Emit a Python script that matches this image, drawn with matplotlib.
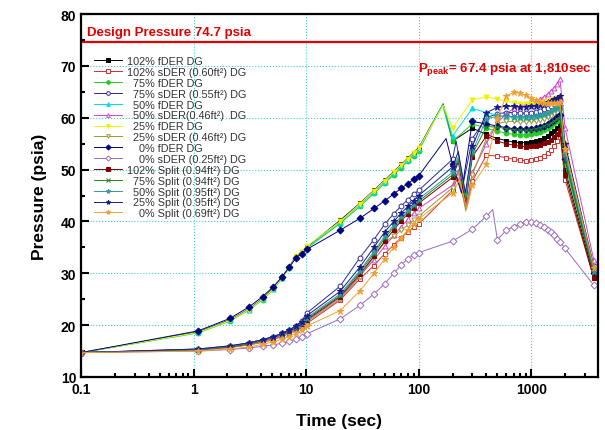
import matplotlib.pyplot as plt
from matplotlib.ticker import FixedLocator, MultipleLocator, FuncFormatter, NullFormatter

plt.rcParams['font.family'] = ['Liberation Sans', 'DejaVu Sans']
plt.rcParams['mathtext.fontset'] = 'custom'
plt.rcParams['mathtext.rm'] = 'Liberation Sans'
plt.rcParams['mathtext.bf'] = 'Liberation Sans:bold'

# time points where markers are drawn (sec)
time_s = [0.1, 1.1, 2.1, 3.1, 4.1, 5.1, 6.1, 7.1, 8.1, 9.1, 10.1,
          20, 30, 40, 50, 60, 70, 80, 90, 100,
          200, 300, 400, 500, 600, 700, 800, 900, 1000,
          1100, 1200, 1300, 1400, 1500, 1600, 1700, 1800, 2000, 3600]

# pressure (psia) for each case, one value per time point
fder_102 = [14.7, 18.7, 21.0, 23.1, 25.1, 27.1, 29.2, 31.3, 33.3, 34.1, 35.0,
            40.2, 43.5, 46.0, 48.0, 49.6, 51.0, 52.2, 53.3, 54.2,
            55.5, 58.0, 56.8, 56.0, 55.6, 55.3, 55.2, 55.2, 55.3,
            55.5, 55.8, 56.1, 56.5, 57.0, 57.5, 58.1, 58.8, 50.0, 29.5]
sder_102 = [14.7, 15.2, 15.7, 16.2, 16.7, 17.2, 17.8, 18.4, 19.0, 19.6, 20.3,
            24.8, 28.9, 31.5, 33.8, 35.5, 36.9, 38.0, 38.9, 39.5,
            46.0, 47.8, 52.8, 52.6, 52.3, 52.0, 51.8, 51.7, 51.8,
            52.0, 52.3, 52.7, 53.2, 53.8, 54.6, 55.6, 56.8, 48.0, 29.0]
fder_75 = [14.7, 18.5, 20.8, 22.9, 24.9, 26.9, 29.0, 31.1, 33.1, 33.9, 34.8,
           39.6, 42.9, 45.4, 47.4, 49.0, 50.4, 51.6, 52.7, 53.6,
           55.5, 58.8, 58.0, 57.4, 57.0, 56.8, 56.7, 56.7, 56.8,
           57.0, 57.3, 57.6, 58.0, 58.4, 58.9, 59.4, 60.0, 51.0, 30.0]
sder_75 = [14.7, 15.4, 16.0, 16.6, 17.2, 17.8, 18.4, 19.1, 19.9, 20.8, 22.3,
           27.5, 33.0, 36.5, 39.5, 41.5, 43.0, 44.2, 45.2, 46.0,
           52.0, 56.0, 60.0, 60.8, 61.0, 61.0, 60.9, 60.9, 61.0,
           61.1, 61.3, 61.6, 61.9, 62.2, 62.6, 63.0, 63.4, 54.0, 31.5]
fder_50 = [14.7, 18.6, 20.9, 23.0, 25.0, 27.0, 29.1, 31.2, 33.2, 34.0, 34.9,
           39.9, 43.2, 45.7, 47.7, 49.3, 50.7, 51.9, 53.0, 53.9,
           56.5, 61.8, 61.0, 60.5, 60.2, 60.0, 59.9, 59.9, 60.0,
           60.1, 60.3, 60.6, 60.9, 61.2, 61.6, 62.0, 62.4, 53.0, 30.5]
sder_50 = [14.7, 15.2, 15.7, 16.3, 16.8, 17.4, 18.0, 18.6, 19.3, 20.0, 20.8,
           25.3, 29.5, 32.6, 35.2, 37.3, 39.0, 40.4, 41.6, 42.5,
           47.0, 49.5, 55.0, 59.0, 60.8, 61.8, 62.3, 62.6, 62.9,
           63.2, 63.6, 64.1, 64.6, 65.2, 65.8, 66.6, 67.4, 58.0, 32.5]
fder_25 = [14.7, 18.6, 20.9, 23.0, 25.0, 27.0, 29.1, 31.2, 33.3, 34.2, 35.2,
           40.0, 43.4, 45.9, 47.9, 49.5, 50.9, 52.1, 53.2, 54.1,
           58.0, 63.5, 64.0, 63.6, 63.2, 62.9, 62.7, 62.6, 62.6,
           62.7, 62.8, 63.0, 63.2, 63.4, 63.6, 63.8, 64.0, 55.0, 31.0]
sder_25 = [14.7, 15.2, 15.7, 16.2, 16.7, 17.3, 17.9, 18.5, 19.1, 19.8, 20.6,
           25.0, 29.3, 33.2, 36.0, 37.2, 38.3, 39.3, 40.2, 41.0,
           46.5, 49.0, 56.0, 58.8, 59.3, 59.3, 59.2, 59.2, 59.3,
           59.4, 59.6, 59.8, 60.1, 60.4, 60.7, 61.0, 61.3, 52.5, 30.0]
fder_0 = [14.7, 18.9, 21.3, 23.5, 25.5, 27.4, 29.3, 31.2, 33.0, 33.8, 34.6,
          38.3, 40.6, 42.5, 44.0, 45.3, 46.4, 47.3, 48.1, 48.8,
          51.0, 59.3, 58.8, 58.4, 58.1, 57.9, 57.8, 57.8, 57.9,
          58.0, 58.2, 58.5, 58.8, 59.2, 59.6, 60.1, 60.6, 52.0, 30.0]
sder_0 = [14.7, 15.0, 15.3, 15.6, 15.9, 16.2, 16.5, 16.9, 17.3, 17.8, 18.3,
          21.2, 23.8, 26.0, 28.0, 30.0, 31.6, 32.8, 33.5, 34.0,
          36.2, 38.5, 41.0, 36.5, 38.3, 39.0, 39.6, 39.9, 39.9,
          39.7, 39.3, 38.9, 38.4, 37.9, 37.3, 36.7, 36.1, 34.8, 27.7]
split_102 = [14.7, 15.3, 15.8, 16.4, 17.0, 17.6, 18.2, 18.8, 19.5, 20.2, 21.0,
             25.5, 29.8, 33.3, 36.2, 38.4, 40.1, 41.5, 42.6, 43.5,
             48.5, 52.5, 56.5, 55.5, 55.0, 54.7, 54.5, 54.4, 54.5,
             54.6, 54.8, 55.1, 55.4, 55.8, 56.3, 56.9, 57.6, 49.0, 29.0]
split_75 = [14.7, 15.3, 15.9, 16.5, 17.1, 17.7, 18.3, 18.9, 19.6, 20.3, 21.2,
            25.7, 30.2, 33.8, 36.8, 38.9, 40.6, 41.9, 43.0, 43.9,
            49.0, 53.0, 58.3, 58.2, 57.9, 57.7, 57.6, 57.6, 57.7,
            57.9, 58.1, 58.4, 58.7, 59.0, 59.4, 59.8, 60.2, 52.0, 30.0]
split_50 = [14.7, 15.3, 15.9, 16.5, 17.1, 17.7, 18.3, 19.0, 19.7, 20.4, 21.4,
            26.0, 30.5, 34.2, 37.2, 39.3, 41.0, 42.3, 43.4, 44.3,
            49.5, 53.5, 59.8, 60.3, 60.3, 60.2, 60.1, 60.1, 60.2,
            60.3, 60.5, 60.7, 61.0, 61.3, 61.6, 61.9, 62.2, 53.0, 30.5]
split_25 = [14.7, 15.4, 16.0, 16.6, 17.2, 17.8, 18.4, 19.1, 19.8, 20.6, 21.8,
            26.5, 31.2, 35.0, 38.0, 40.0, 41.6, 42.9, 44.0, 45.0,
            50.5, 54.5, 61.0, 62.0, 62.2, 62.2, 62.1, 62.1, 62.2,
            62.3, 62.5, 62.7, 63.0, 63.3, 63.6, 63.9, 64.2, 55.0, 31.0]
split_0 = [14.7, 15.0, 15.4, 15.8, 16.3, 16.8, 17.3, 17.8, 18.4, 19.0, 19.8,
           22.8, 26.6, 30.0, 32.8, 35.0, 36.9, 38.4, 39.6, 40.5,
           45.5, 47.0, 51.0, 60.0, 64.2, 64.9, 64.7, 64.3, 63.8,
           63.4, 63.1, 62.9, 62.8, 62.8, 62.8, 62.9, 63.0, 54.0, 31.0]

# extra peak / dip points between markers (time, psia)
kinks = {
    'fder_102': [(165, 62.7)],
    'fder_75': [(163, 62.5)],
    'fder_50': [(164, 62.6)],
    'fder_25': [(165, 62.4)],
    'fder_0': [(175, 56.0), (240, 45.5)],
    'sder_102': [(222, 48.5), (265, 42.5)],
    'sder_75': [(215, 55.5), (250, 47.5)],
    'sder_50': [(225, 50.0), (265, 43.0)],
    'sder_25': [(225, 49.5), (262, 42.0)],
    'sder_0': [(455, 42.3)],
    'split_102': [(225, 51.5), (262, 43.5)],
    'split_75': [(225, 52.0), (262, 44.2)],
    'split_50': [(225, 52.5), (262, 44.8)],
    'split_25': [(225, 53.5), (260, 45.5)],
    'split_0': [(230, 48.0), (268, 42.5)],
}

# (key, label, values, colour, marker, filled)
series = [
    ('fder_102', '102% fDER DG', fder_102, 'black', 's', True),
    ('sder_102', '102% sDER (0.60ft²) DG', sder_102, '#d03030', 's', False),
    ('fder_75', '  75% fDER DG', fder_75, '#22cc22', 'o', True),
    ('sder_75', '  75% sDER (0.55ft²) DG', sder_75, '#2a2a9a', 'o', False),
    ('fder_50', '  50% fDER DG', fder_50, '#00dddd', '^', True),
    ('sder_50', '  50% sDER(0.46ft²)  DG', sder_50, '#cc44cc', '^', False),
    ('fder_25', '  25% fDER DG', fder_25, '#f0f000', 'v', True),
    ('sder_25', '  25% sDER (0.46ft²) DG', sder_25, '#9a9a30', 'v', False),
    ('fder_0', '    0% fDER DG', fder_0, '#000080', 'D', True),
    ('sder_0', '    0% sDER (0.25ft²) DG', sder_0, '#9a6ac0', 'D', False),
    ('split_102', '102% Split (0.94ft²) DG', split_102, '#800000', 's', True),
    ('split_75', '  75% Split (0.94ft²) DG', split_75, '#228822', 'x', True),
    ('split_50', '  50% Split (0.95ft²) DG', split_50, '#339999', '*', True),
    ('split_25', '  25% Split (0.95ft²) DG', split_25, '#1a1a8a', '*', True),
    ('split_0', '    0% Split (0.69ft²) DG', split_0, '#f0a030', '*', True),
]

fig = plt.figure(figsize=(6.05, 4.31), dpi=100)
ax = fig.add_axes([0.134, 0.123, 0.854, 0.842])

for key, label, vals, color, marker, filled in series:
    pts = sorted(list(zip(time_s, vals)) + kinks[key])
    kt = set(k[0] for k in kinks[key])
    t = [p[0] for p in pts]
    p = [p[1] for p in pts]
    mark = [x not in kt for x in t]
    ax.plot(t, p, color=color, lw=0.7, marker=marker, markevery=mark,
            markersize=3.5 if marker != '*' else 4.5,
            markerfacecolor=color if filled else 'white',
            markeredgecolor=color, markeredgewidth=0.7, label=label)

ax.axhline(74.7, color='#e00000', lw=1.6)
ax.text(0.112, 76.6, 'Design Pressure 74.7 psia', color='#e00000',
        fontsize=9.5, fontweight='bold', va='center', ha='left')
ax.text(98, 69.6, r'$\mathbf{P_{peak}}$= 67.4 psia at 1,810sec', color='#e00000',
        fontsize=9.5, fontweight='bold', va='center', ha='left')

ax.set_xscale('log')
ax.set_xlim(0.1, 3900)
ax.set_ylim(10, 80)
ax.xaxis.set_major_locator(FixedLocator([0.1, 1, 10, 100, 1000]))
ax.xaxis.set_major_formatter(FuncFormatter(lambda v, pos: '%g' % v))
ax.xaxis.set_minor_formatter(NullFormatter())
ax.yaxis.set_major_locator(MultipleLocator(10))
ax.yaxis.set_minor_locator(MultipleLocator(5))

ax.grid(True, which='major', color='#44cccc', linestyle=':', lw=0.8)
ax.tick_params(which='both', direction='in', top=False, right=False, width=1.5)
ax.tick_params(which='major', length=6, labelsize=10)
ax.tick_params(which='minor', length=3)
for lab in ax.get_xticklabels() + ax.get_yticklabels():
    lab.set_fontweight('bold')
for s in ax.spines.values():
    s.set_linewidth(1.6)

ax.set_xlabel('Time (sec)', fontsize=12.5, fontweight='bold', labelpad=12)
ax.set_ylabel('Pressure (psia)', fontsize=12.5, fontweight='bold', labelpad=10)

leg = ax.legend(loc='upper left', bbox_to_anchor=(0.01, 0.905), frameon=False,
                fontsize=7.8, handlelength=2.6, handletextpad=0.5,
                labelspacing=0.08, borderpad=0.2, markerscale=0.75)
for txt in leg.get_texts():
    txt.set_color('#333333')

fig.savefig('out.png', dpi=100)
